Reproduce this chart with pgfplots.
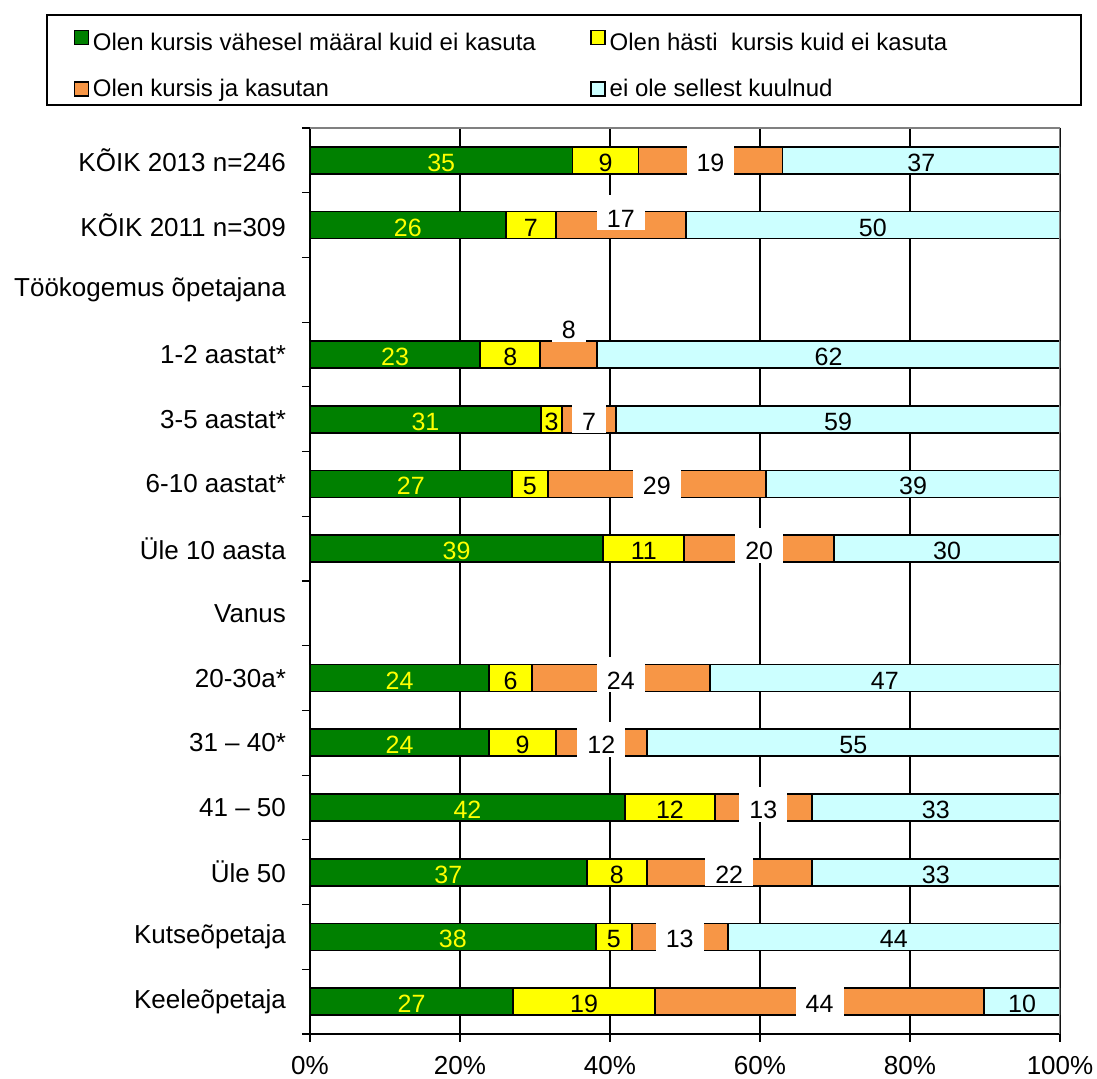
\documentclass[border=0pt]{standalone}
\usepackage{fontspec}
\setmainfont{Liberation Sans}
\usepackage{pgfplots}
\usepackage{pgfplotstable}
\pgfplotsset{compat=1.18}

\definecolor{cgreen}{HTML}{008000}
\definecolor{cyellow}{HTML}{FFFF00}
\definecolor{corange}{HTML}{F79646}
\definecolor{ccyan}{HTML}{CCFFFF}

% row = position counted from the bottom; 6 and 11 are the empty group headings
% dy = how far the label of the third series is lifted (pt)
\pgfplotstableread{
row  vahe  hasti  kasut  eiole  dy
13   35.0  8.8    19.2   37.0   0
12   26.1  6.7    17.3   49.9   4.5
10   22.7  8.0    7.6    61.7   13.25
9    30.8  2.8    7.2    59.2   0
8    26.9  4.8    29.1   39.2   0
7    39.1  10.8   20.0   30.1   0
5    23.9  5.7    23.7   46.7   0
4    23.9  8.9    12.1   55.1   0
3    42.0  12.0   12.9   33.1   0
2    36.9  8.0    22.0   33.1   0
1    38.1  4.8    12.8   44.3   0
0    27.1  18.9   43.9   10.1   0
}\tabel

\pgfplotsset{
  /pgf/number format/assume math mode=true,
  % labels sit in the middle of each segment, baseline a little low
  mid label/.style={
    nodes near coords={\fontsize{12.5}{14}\selectfont\pgfmathprintnumber[fixed,precision=0]{\pgfplotspointmeta}},
    every node near coord/.style={
      anchor=base, yshift=-5.5pt,
      #1
    }
  },
}

\begin{document}
\begin{tikzpicture}
\begin{axis}[
  name=ax,
  scale only axis,
  width=375pt, height=453pt,
  xbar stacked, bar width=13.5pt,
  xmin=0, xmax=100, ymin=-0.5, ymax=13.5,
  axis lines*=left,
  axis line style={black, line width=0.8pt, -},
  xtick={0,20,...,100},
  xticklabel={\pgfmathprintnumber{\tick}\%},
  xticklabel style={yshift=-3.5pt},
  xmajorgrids,
  major grid style={black, line width=0.6pt},
  ytick={0,...,13},
  yticklabels={Keeleõpetaja, Kutseõpetaja, Üle 50, 41 – 50, 31 – 40*, 20-30a*,
    Vanus, Üle 10 aasta, 6-10 aastat*, 3-5 aastat*, 1-2 aastat*,
    Töökogemus õpetajana, KÕIK 2011 n=309, KÕIK 2013 n=246},
  yticklabel style={xshift=-4.5pt},
  minor y tick num=1,
  major y tick style={draw=none},
  extra y ticks={-0.5,13.5},
  extra y tick labels={},
  extra y tick style={major y tick style={draw=black}},
  tick align=outside,
  major tick length=4pt, minor tick length=4pt,
  tick style={black, line width=0.6pt},
  every tick label/.append style={font=\fontsize{13}{15}\selectfont},
  legend columns=2,
  legend cell align=left,
  legend style={at={(0,1)}, anchor=north west, xshift=-132pt, yshift=57pt,
    draw=black, line width=0.8pt,
    font=\fontsize{12}{14}\selectfont,
    inner xsep=13.5pt, inner ysep=1pt, row sep=8.5pt,
    /tikz/every even column/.append style={column sep=0pt}},
  legend image code/.code={\draw[#1, draw=black, line width=0.6pt] (0pt,-3.5pt) rectangle (7pt,3.5pt);},
]
\draw[gray, line width=1pt] (rel axis cs:0,1) -- (rel axis cs:1,1) -- (rel axis cs:1,0);
\addplot[fill=cgreen, draw=black, line width=0.8pt, mid label={text=cyellow}]
  table[x=vahe, y=row] {\tabel};
\addlegendentry{\rule{0pt}{15pt}\makebox[246.75pt][l]{Olen kursis vähesel määral kuid ei kasuta}}
\addplot[fill=cyellow, draw=black, line width=0.8pt, mid label={text=black}]
  table[x=hasti, y=row] {\tabel};
\addlegendentry{\rule{0pt}{15pt}\makebox[220pt][l]{Olen hästi \ kursis kuid ei kasuta}}
\addplot[fill=corange, draw=black, line width=0.8pt,
  visualization depends on={\thisrow{dy} \as \labdy},
  mid label={text=black, fill=white, inner xsep=5pt, inner ysep=0pt,
    text height=15.8pt, text depth=1.6pt, yshift=\labdy pt}]
  table[x=kasut, y=row] {\tabel};
\addlegendentry{Olen kursis ja kasutan}
\addplot[fill=ccyan, draw=black, line width=0.8pt, mid label={text=black}]
  table[x=eiole, y=row] {\tabel};
\addlegendentry{ei ole sellest kuulnud}
\end{axis}
\pgfresetboundingbox
\path ([xshift=-155pt,yshift=-22.5pt]ax.south west) rectangle ([xshift=18.5pt,yshift=64pt]ax.north east);
\end{tikzpicture}
\end{document}
